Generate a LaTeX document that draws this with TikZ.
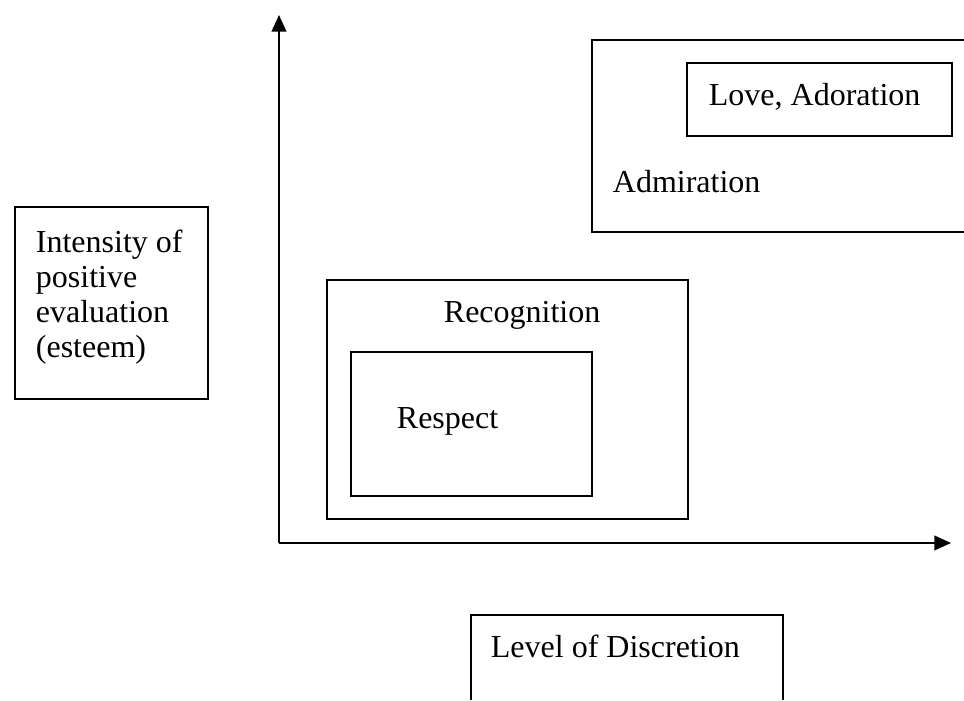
\documentclass[tikz,border=0pt]{standalone}
\usepackage{fontspec}
\setmainfont{Liberation Serif}
\usetikzlibrary{arrows.meta,fit}
\begin{document}
\begin{tikzpicture}[x=0.75pt,y=-0.75pt,
  line width=1.4pt,
  box/.style={draw=black, line width=1.4pt, inner sep=0pt, fit={#1}},
  lbl/.style={inner sep=0pt, anchor=base west, font=\fontsize{24}{24.75}\selectfont},
  axis/.style={line width=1.4pt, -{Triangle[length=12.5pt,width=11pt]}}]
\useasboundingbox (0,0) rectangle (964,700);
% axes
\coordinate (O) at (279,543);
\coordinate (Ytip) at (279,15);
\coordinate (Xtip) at (951,543);
\draw[axis] (O) -- (Ytip);
\draw[axis] (O) -- (Xtip);
% y label
\node[box={(15,207) (208,399)}] (ybox) {};
\node[inner sep=0pt, anchor=base west, align=left,
      font=\fontsize{24}{26.25}\selectfont] (ytext) at (35,357)
  {Intensity of\\positive\\evaluation\\(esteem)};
% recognition / respect
\node[box={(327,280) (688,519)}] (recbox) {};
\node[lbl] (rectext) at (443,322) {Recognition};
\node[box={(351,352) (592,496)}] (respbox) {};
\node[lbl] (resptext) at (396,428) {Respect};
% admiration (open on the right)
\coordinate (admTR) at (964,40);
\coordinate (admTL) at (592,40);
\coordinate (admBL) at (592,232);
\coordinate (admBR) at (964,232);
\draw (admTR) -- (admTL) -- (admBL) -- (admBR);
\node[lbl] (admtext) at (612,192) {Admiration};
\node[box={(687,63) (952,136)}] (lovebox) {};
\node[lbl] (lovetext) at (708,105) {Love, Adoration};
% level of discretion (open at the bottom)
\coordinate (levBL) at (471,700);
\coordinate (levTL) at (471,615);
\coordinate (levTR) at (783,615);
\coordinate (levBR) at (783,700);
\draw (levBL) -- (levTL) -- (levTR) -- (levBR);
\node[lbl] (levtext) at (490,657) {Level of Discretion};
\end{tikzpicture}
\end{document}
